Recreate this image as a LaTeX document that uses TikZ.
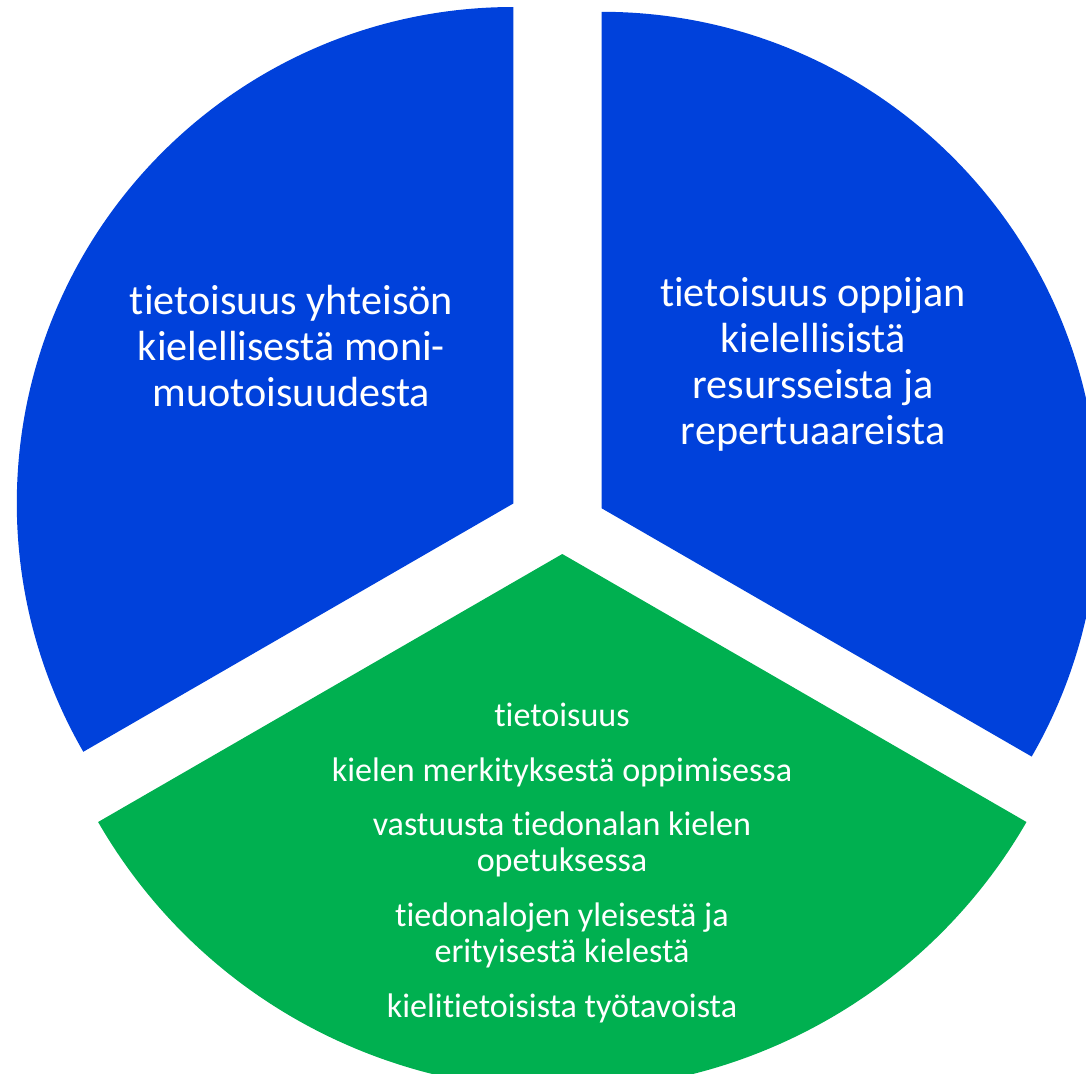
\documentclass[tikz,border=0pt]{standalone}
\usepackage{fontspec}
\setmainfont{Carlito}[Ligatures={NoCommon}]
\definecolor{sektorisini}{HTML}{0041DB}
\definecolor{sektorivihrea}{HTML}{00B050}

\begin{document}
\begin{tikzpicture}[
		x=0.02cm, y=0.02cm,
		declare function = {
				R = 496.5;
				RG = 536;
			},
		isoteksti/.style = {white, align=center, font=\fontsize{24}{26.2}\selectfont},
		pieniteksti/.style = {white, align=center, font=\fontsize{19.4}{20.6}\selectfont},
	]
	\path[use as bounding box] (0,0) rectangle ++(1086,-1073);
	\clip (0,0) rectangle ++(1086,-1073);
	\coordinate (LA) at (513.3,-503.5);
	\coordinate (RA) at (601.7,-508.3);
	\coordinate (GA) at (562.3,-554);
	\fill[sektorisini] (LA) -- ++(90:R) arc[start angle=90, end angle=210, radius=R] -- cycle;
	\fill[sektorisini] (RA) -- ++(90:R) arc[start angle=90, end angle=-30, radius=R] -- cycle;
	\fill[sektorivihrea] (GA) -- ++(210:RG) arc[start angle=210, end angle=330, radius=RG] -- cycle;
	\node[isoteksti] (yhteiso) at (291.5,-346) {tietoisuus yhteisön\\kielellisestä moni-\\muotoisuudesta};
	\node[isoteksti] (oppija) at (813,-364) {tietoisuus oppijan\\kielellisistä\\resursseista ja\\repertuaareista};
	\node[pieniteksti] (tietoisuus) at (562,-863) {tietoisuus\\[0.37cm]
		kielen merkityksestä oppimisessa\\[0.37cm]
		vastuusta tiedonalan kielen\\opetuksessa\\[0.37cm]
		tiedonalojen yleisestä ja\\erityisestä kielestä\\[0.37cm]
		kielitietoisista työtavoista};
\end{tikzpicture}
\end{document}
